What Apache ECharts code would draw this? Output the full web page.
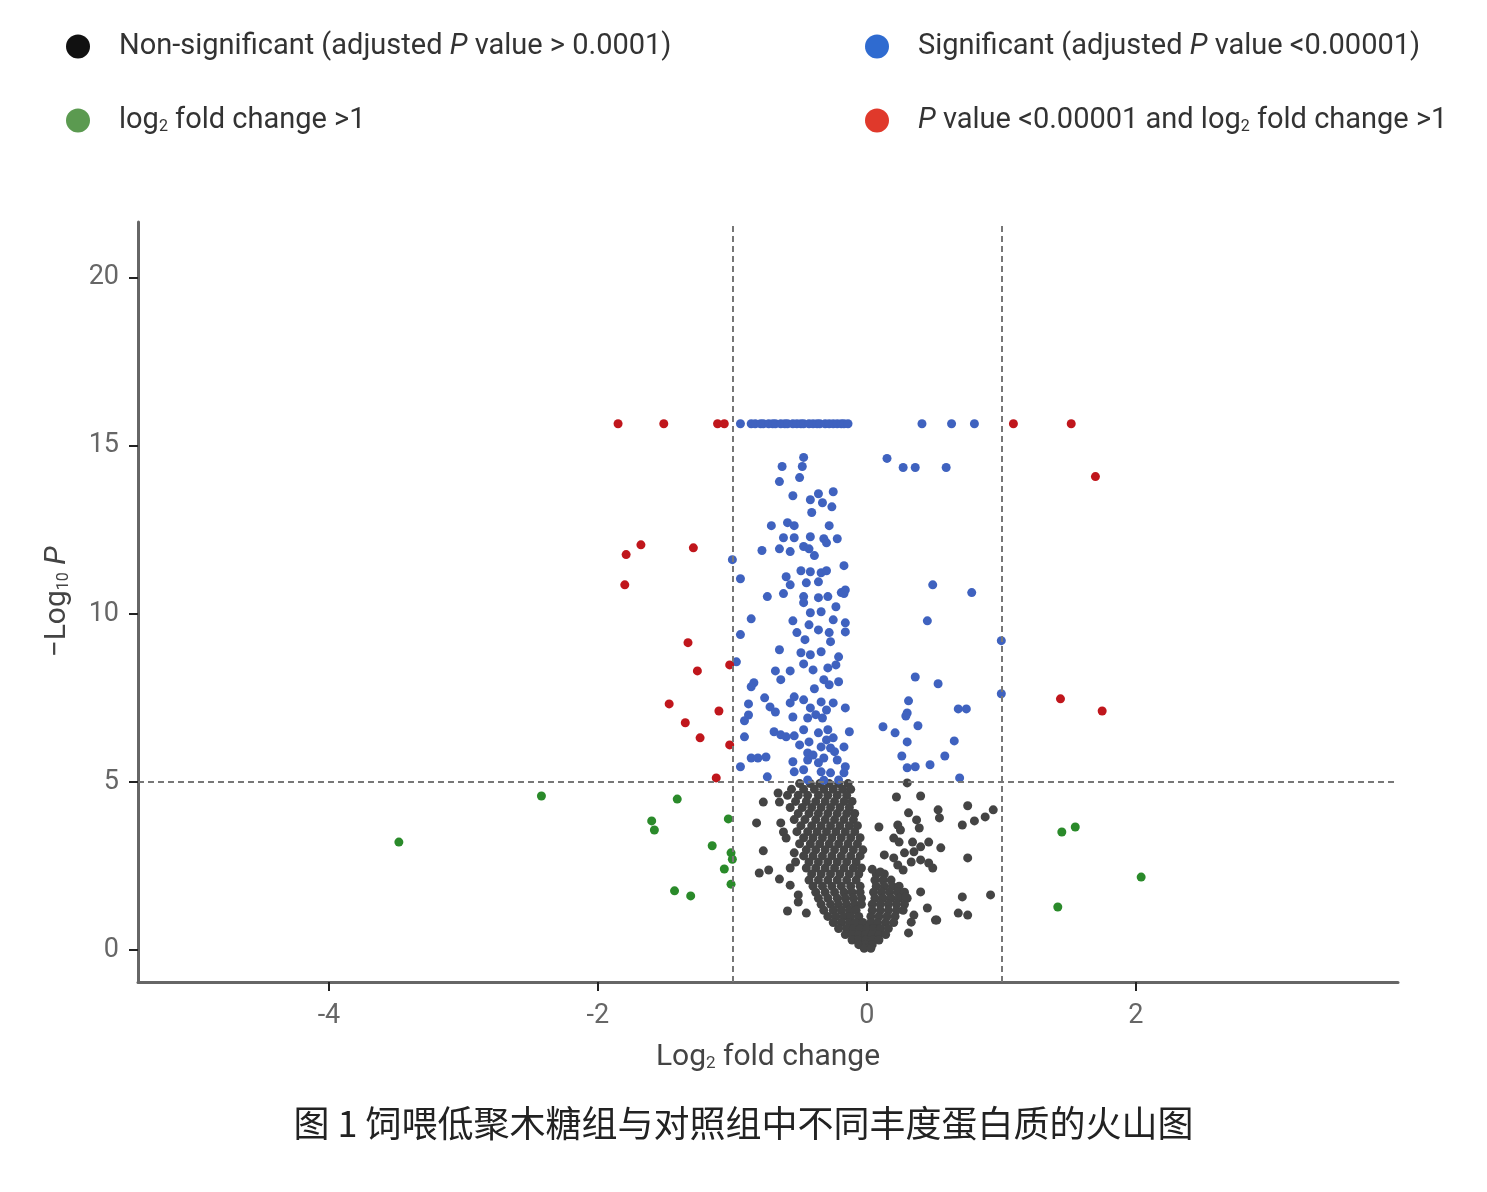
<!DOCTYPE html>
<html>
<head>
<meta charset="utf-8">
<script src="https://cdn.jsdelivr.net/npm/echarts@6/dist/echarts.min.js"></script>
<style>
  html, body { margin: 0; padding: 0; background: #fff; }
  #chart { width: 1487px; height: 1192px; }
</style>
</head>
<body>
<div id="chart"></div>
<script>
// volcano plot: log2 fold change vs -log10 P
const xTicks = [-4, -2, 0, 2]
const yTicks = [0, 5, 10, 15, 20]
const fcCut = [-1, 1]
const pCut = 5

// grey: not significant
const nonSigPoints = [
  [-0.50,4.95],[-0.42,4.95],[-0.35,4.95],[-0.28,4.95],[-0.21,4.95],[-0.14,4.95],
  [-0.56,4.78],[-0.47,4.78],[-0.39,4.78],[-0.32,4.78],[-0.25,4.78],[-0.18,4.78],[-0.12,4.78],
  [-0.59,4.60],[-0.51,4.60],[-0.44,4.60],[-0.36,4.60],[-0.29,4.60],[-0.22,4.60],[-0.15,4.60],
  [-0.53,4.42],[-0.45,4.42],[-0.38,4.42],[-0.31,4.42],[-0.24,4.42],[-0.17,4.42],[-0.11,4.42],
  [-0.57,4.24],[-0.48,4.24],[-0.41,4.24],[-0.34,4.24],[-0.27,4.24],[-0.20,4.24],[-0.13,4.24],
  [-0.51,4.06],[-0.43,4.06],[-0.36,4.06],[-0.29,4.06],[-0.22,4.06],[-0.15,4.06],[-0.09,4.06],
  [-0.54,3.88],[-0.46,3.88],[-0.38,3.88],[-0.31,3.88],[-0.24,3.88],[-0.17,3.88],[-0.10,3.88],
  [-0.49,3.70],[-0.41,3.70],[-0.34,3.70],[-0.27,3.70],[-0.20,3.70],[-0.13,3.70],[-0.07,3.70],
  [-0.52,3.52],[-0.44,3.52],[-0.37,3.52],[-0.30,3.52],[-0.23,3.52],[-0.16,3.52],[-0.09,3.52],
  [-0.47,3.34],[-0.40,3.34],[-0.33,3.34],[-0.26,3.34],[-0.19,3.34],[-0.12,3.34],[-0.05,3.34],
  [-0.50,3.16],[-0.42,3.16],[-0.35,3.16],[-0.28,3.16],[-0.21,3.16],[-0.14,3.16],[-0.07,3.16],
  [-0.45,2.98],[-0.38,2.98],[-0.31,2.98],[-0.24,2.98],[-0.17,2.98],[-0.10,2.98],[-0.03,2.98],
  [-0.47,2.80],[-0.40,2.80],[-0.33,2.80],[-0.26,2.80],[-0.19,2.80],[-0.12,2.80],[-0.05,2.80],
  [-0.43,2.62],[-0.36,2.62],[-0.29,2.62],[-0.22,2.62],[-0.15,2.62],[-0.08,2.62],
  [-0.45,2.44],[-0.38,2.44],[-0.31,2.44],[-0.24,2.44],[-0.17,2.44],[-0.10,2.44],[-0.04,2.44],
  [-0.41,2.26],[-0.34,2.26],[-0.27,2.26],[-0.20,2.26],[-0.13,2.26],[-0.06,2.26],[0.07,2.26],[0.13,2.26],
  [-0.43,2.08],[-0.36,2.08],[-0.29,2.08],[-0.22,2.08],[-0.15,2.08],[-0.08,2.08],[0.06,2.08],[0.12,2.08],[0.18,2.08],
  [-0.40,1.90],[-0.33,1.90],[-0.26,1.90],[-0.19,1.90],[-0.12,1.90],[-0.05,1.90],[0.07,1.90],[0.13,1.90],[0.19,1.90],[0.24,1.90],
  [-0.38,1.72],[-0.31,1.72],[-0.24,1.72],[-0.17,1.72],[-0.11,1.72],[-0.05,1.72],[0.05,1.72],[0.11,1.72],[0.17,1.72],[0.23,1.72],[0.28,1.72],
  [-0.36,1.54],[-0.29,1.54],[-0.22,1.54],[-0.16,1.54],[-0.10,1.54],[-0.04,1.54],[0.06,1.54],[0.12,1.54],[0.18,1.54],[0.24,1.54],[0.30,1.54],
  [-0.34,1.36],[-0.27,1.36],[-0.21,1.36],[-0.15,1.36],[-0.09,1.36],[-0.04,1.36],[0.04,1.36],[0.10,1.36],[0.16,1.36],[0.22,1.36],[0.28,1.36],
  [-0.32,1.18],[-0.25,1.18],[-0.19,1.18],[-0.13,1.18],[-0.08,1.18],[0.04,1.18],[0.10,1.18],[0.16,1.18],[0.22,1.18],[0.27,1.18],
  [-0.29,1.00],[-0.23,1.00],[-0.17,1.00],[-0.12,1.00],[-0.06,1.00],[0.03,1.00],[0.09,1.00],[0.15,1.00],[0.21,1.00],
  [-0.25,0.82],[-0.19,0.82],[-0.13,0.82],[-0.08,0.82],[-0.03,0.82],[0.03,0.82],[0.08,0.82],[0.14,0.82],[0.20,0.82],
  [-0.21,0.64],[-0.15,0.64],[-0.10,0.64],[-0.05,0.64],[0.00,0.64],[0.05,0.64],[0.10,0.64],[0.16,0.64],
  [-0.16,0.46],[-0.11,0.46],[-0.06,0.46],[-0.01,0.46],[0.04,0.46],[0.09,0.46],[0.14,0.46],
  [-0.11,0.30],[-0.06,0.30],[-0.01,0.30],[0.04,0.30],[0.09,0.30],
  [-0.06,0.16],[-0.01,0.16],[0.04,0.16],
  [-0.02,0.05],[0.03,0.05],
  // scattered, left of the cloud
  [-0.77,4.40],[-0.66,4.67],[-0.65,4.40],[-0.82,3.78],[-0.77,2.95],[-0.80,2.29],[-0.73,2.38],
  [-0.65,2.11],[-0.57,1.93],[-0.59,1.16],[-0.45,1.10],[-0.51,1.64],[-0.51,1.43],[-0.64,3.78],
  [-0.62,3.51],[-0.60,3.33],[-0.54,2.89],[-0.53,2.62],[-0.57,2.44],
  // scattered, right of the cloud
  [0.22,4.55],[0.40,4.58],[0.30,4.97],[0.31,4.08],[0.37,3.87],[0.39,3.63],[0.09,3.66],
  [0.23,3.72],[0.25,3.57],[0.20,3.33],[0.24,3.21],[0.34,3.21],[0.40,3.07],[0.46,3.21],
  [0.55,3.04],[0.13,2.83],[0.20,2.74],[0.28,2.89],[0.35,2.92],[0.23,2.53],[0.33,2.62],
  [0.40,2.68],[0.46,2.59],[0.49,2.44],[0.27,2.38],[0.04,2.40],[0.10,2.32],[0.53,4.17],
  [0.54,3.93],[0.75,4.29],[0.71,3.72],[0.80,3.84],[0.88,3.96],[0.94,4.17],[0.75,2.74],
  [0.40,1.73],[0.71,1.58],[0.92,1.64],[0.45,1.25],[0.51,0.89],[0.68,1.10],[0.75,1.04],
  [0.31,0.51],[0.35,1.04],[0.33,0.83],[0.29,1.58],[0.52,0.89]
]

// blue: significant P only
const sigPoints = [
  [-0.94,15.65],[-0.86,15.65],[-0.83,15.65],[-0.79,15.65],[-0.77,15.65],[-0.73,15.65],[-0.70,15.65],
  [-0.68,15.65],[-0.64,15.65],[-0.61,15.65],[-0.59,15.65],[-0.55,15.65],[-0.52,15.65],[-0.49,15.65],
  [-0.47,15.65],[-0.43,15.65],[-0.40,15.65],[-0.37,15.65],[-0.35,15.65],[-0.31,15.65],[-0.28,15.65],
  [-0.25,15.65],[-0.22,15.65],[-0.19,15.65],[-0.17,15.65],[-0.14,15.65],
  [0.41,15.65],[0.63,15.65],[0.80,15.65],
  [0.15,14.62],[0.27,14.35],[0.36,14.35],[0.59,14.35],
  [-0.47,14.65],[-0.48,14.38],[-0.63,14.38],[-0.50,14.05],[-0.65,13.93],[-0.55,13.51],[-0.36,13.57],
  [-0.25,13.63],[-0.42,13.39],[-0.33,13.30],[-0.26,13.18],[-0.41,13.01],[-0.71,12.62],[-0.59,12.71],
  [-0.54,12.62],[-0.28,12.62],[-0.62,12.26],[-0.54,12.26],[-0.42,12.29],[-0.32,12.23],[-0.22,12.23],
  [-0.78,11.88],[-0.65,11.93],[-0.57,11.85],[-0.47,12.00],[-0.43,11.93],[-0.39,11.73],[-0.30,12.11],
  [-1.00,11.61],[-0.94,11.04],[-0.49,11.28],[-0.42,11.25],[-0.34,11.22],[-0.30,11.28],[-0.17,11.43],
  [-0.60,11.10],[-0.57,10.86],[-0.45,10.92],[-0.36,10.95],[-0.16,10.71],[-0.19,10.63],[-0.74,10.51],
  [-0.62,10.60],[-0.47,10.51],[-0.47,10.33],[-0.36,10.48],[-0.29,10.51],[-0.17,10.60],
  [-0.86,9.85],[-0.55,9.79],[-0.42,10.03],[-0.34,10.06],[-0.23,10.21],[-0.25,9.82],[-0.16,9.73],
  [-0.94,9.38],[-0.52,9.44],[-0.43,9.67],[-0.36,9.52],[-0.28,9.44],[-0.16,9.46],[-0.46,9.23],
  [-0.27,9.17],[-0.65,8.93],[-0.49,8.84],[-0.42,8.78],[-0.34,8.87],[-0.21,8.72],[-0.97,8.57],
  [-0.68,8.30],[-0.57,8.30],[-0.64,8.04],[-0.47,8.51],[-0.40,8.33],[-0.29,8.39],[-0.23,8.48],
  [-0.84,7.95],[-0.86,7.83],[-0.39,7.77],[-0.32,8.04],[-0.28,7.89],[-0.21,7.98],[-0.76,7.50],
  [-0.72,7.23],[-0.68,7.08],[-0.88,7.32],[-0.57,7.35],[-0.54,7.53],[-0.55,6.93],[-0.47,7.44],
  [-0.42,7.20],[-0.34,7.38],[-0.30,7.14],[-0.25,7.35],[-0.16,7.20],[-0.88,6.99],[-0.91,6.82],
  [-0.44,6.90],[-0.33,6.90],[-0.91,6.34],[-0.69,6.49],[-0.64,6.40],[-0.60,6.34],[-0.54,6.37],
  [-0.47,6.55],[-0.43,6.19],[-0.36,6.46],[-0.29,6.55],[-0.25,6.31],[-0.13,6.49],[-0.44,5.86],
  [-0.34,6.04],[-0.27,6.01],[-0.17,6.04],[-0.86,5.71],[-0.81,5.71],[-0.75,5.74],[-0.94,5.45],
  [-0.55,5.60],[-0.44,5.65],[-0.36,5.57],[-0.32,5.71],[-0.22,5.65],[-0.16,5.45],[-0.54,5.30],
  [-0.47,5.36],[-0.34,5.30],[-0.27,5.27],[-0.17,5.27],[-0.74,5.15],[-0.44,5.06],[-0.32,5.05],
  [-0.21,5.06],[-0.40,5.80],[-0.30,6.25],[-0.38,7.00],[-0.24,5.90],[-0.50,6.10],
  [0.49,10.86],[0.78,10.63],[0.45,9.79],[1.00,9.20],[0.36,8.12],[0.53,7.92],[1.00,7.62],
  [0.31,7.41],[0.30,7.05],[0.29,6.96],[0.68,7.17],[0.74,7.17],[0.12,6.64],[0.38,6.67],
  [0.21,6.46],[0.30,6.19],[0.65,6.22],[0.26,5.77],[0.58,5.77],[0.30,5.42],[0.36,5.45],
  [0.47,5.51],[0.69,5.12]
]

// green: fold change only
const fcPoints = [
  [-3.48,3.21],[-2.42,4.58],[-1.41,4.49],[-1.60,3.84],[-1.58,3.57],[-1.03,3.90],[-1.15,3.10],
  [-1.01,2.89],[-1.00,2.70],[-1.06,2.41],[-1.01,1.96],[-1.43,1.76],[-1.31,1.61],
  [1.45,3.51],[1.55,3.66],[2.04,2.17],[1.42,1.28]
]

// red: both
const bothPoints = [
  [-1.85,15.65],[-1.51,15.65],[-1.11,15.65],[-1.06,15.65],[1.09,15.65],[1.52,15.65],[1.70,14.08],
  [-1.68,12.05],[-1.79,11.76],[-1.29,11.96],[-1.80,10.86],[-1.33,9.14],[-1.26,8.30],[-1.02,8.48],
  [-1.47,7.32],[-1.10,7.11],[-1.35,6.76],[-1.24,6.31],[-1.02,6.10],[-1.12,5.12],[1.44,7.47],[1.75,7.11]
]

const names = {
  ns: 'Non-significant (adjusted {i|P} value > 0.0001)',
  sig: 'Significant (adjusted {i|P} value <0.00001)',
  fc: 'log{s|2} fold change >1',
  both: '{i|P} value <0.00001 and log{s|2} fold change >1'
}

const font = 'Roboto, "Noto Sans", sans-serif'
const legendText = {
  fontSize: 29, color: '#333', fontFamily: font, padding: [0, 0, 0, 24],
  rich: {
    i: { fontSize: 29, fontStyle: 'italic', color: '#333', fontFamily: font },
    s: { fontSize: 16, color: '#333', fontFamily: font, verticalAlign: 'bottom', padding: [11, 0, 0, 0] }
  }
}

const chart = echarts.init(document.getElementById('chart'))

chart.setOption({
  backgroundColor: '#fff',
  animation: false,
  title: {
    text: '图 1 饲喂低聚木糖组与对照组中不同丰度蛋白质的火山图',
    left: 'center',
    top: 1100,
    textStyle: { fontSize: 36, fontWeight: 'normal', color: '#222', fontFamily: '"Noto Sans CJK SC", sans-serif' }
  },
  legend: [
    {
      left: 61, top: 27, orient: 'vertical', itemGap: 45, icon: 'circle',
      itemWidth: 24, itemHeight: 24,
      data: [
        { name: names.ns, itemStyle: { color: '#111' } },
        { name: names.fc, itemStyle: { color: '#5b9a50' } }
      ],
      textStyle: legendText
    },
    {
      left: 860, top: 27, orient: 'vertical', itemGap: 45, icon: 'circle',
      itemWidth: 24, itemHeight: 24,
      data: [
        { name: names.sig, itemStyle: { color: '#2f6bd0' } },
        { name: names.both, itemStyle: { color: '#e0392b' } }
      ],
      textStyle: legendText
    }
  ],
  grid: { left: 138, right: 89, top: 222, bottom: 210 },
  xAxis: {
    type: 'value',
    min: -5.42, max: 3.95,
    splitLine: { show: false },
    axisLine: { onZero: false, lineStyle: { color: '#666', width: 3 } },
    axisTick: { length: 9, lineStyle: { color: '#222', width: 2 }, customValues: xTicks },
    axisLabel: { fontSize: 27, color: '#666', margin: 21, fontFamily: font, customValues: xTicks },
    name: 'Log{s|2} fold change',
    nameLocation: 'middle',
    nameGap: 60,
    nameTextStyle: {
      fontSize: 30, color: '#444', fontFamily: font,
      rich: { s: { fontSize: 17, color: '#444', fontFamily: font, verticalAlign: 'bottom', padding: [13, 0, 0, 0] } }
    }
  },
  yAxis: {
    type: 'value',
    min: -0.95, max: 21.65,
    splitLine: { show: false },
    axisLine: { onZero: false, lineStyle: { color: '#666', width: 3 } },
    axisTick: { length: 9, lineStyle: { color: '#222', width: 2 }, customValues: yTicks },
    axisLabel: { fontSize: 27, color: '#666', margin: 19, fontFamily: font, customValues: yTicks },
    name: '−Log{s|10} {i|P}',
    nameLocation: 'middle',
    nameRotate: 90,
    nameGap: 66,
    nameTextStyle: {
      fontSize: 30, color: '#444', fontFamily: font,
      rich: {
        s: { fontSize: 16, color: '#444', fontFamily: font, verticalAlign: 'bottom', padding: [13, 0, 0, 0] },
        i: { fontSize: 30, color: '#444', fontFamily: font, fontStyle: 'italic' }
      }
    }
  },
  series: [
    {
      name: names.ns, type: 'scatter', symbolSize: 9,
      itemStyle: { color: '#444', opacity: 1 },
      data: nonSigPoints,
      markLine: {
        silent: true, symbol: 'none', label: { show: false },
        lineStyle: { color: '#777', type: [6, 4], width: 2 },
        data: [{ xAxis: fcCut[0] }, { xAxis: fcCut[1] }, { yAxis: pCut }]
      }
    },
    { name: names.sig, type: 'scatter', symbolSize: 9, itemStyle: { color: '#3f62bf', opacity: 1 }, data: sigPoints },
    { name: names.fc, type: 'scatter', symbolSize: 9, itemStyle: { color: '#2a8a2a', opacity: 1 }, data: fcPoints },
    { name: names.both, type: 'scatter', symbolSize: 9, itemStyle: { color: '#c0161c', opacity: 1 }, data: bothPoints }
  ]
})
</script>
</body>
</html>
